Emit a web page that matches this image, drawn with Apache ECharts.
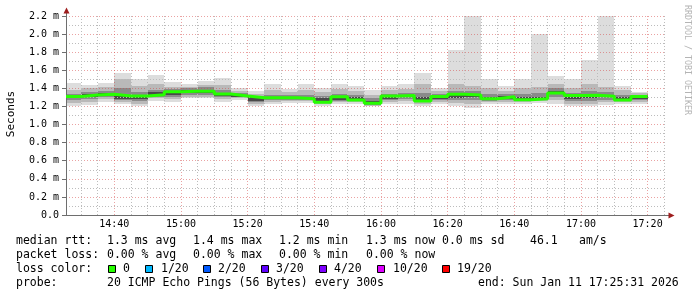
<!DOCTYPE html>
<html><head><meta charset="utf-8">
<script src="https://cdn.jsdelivr.net/npm/echarts@6/dist/echarts.min.js"></script>
<style>html,body{margin:0;padding:0;background:#fff}#c{width:697px;height:297px}</style>
</head><body><div id="c"></div>
<script>
// ---- data ----
const axisStart = '14:25:31';
const axisEnd = '17:25:31';
const stepEnds = ['14:30','14:35','14:40','14:45','14:50','14:55','15:00','15:05','15:10','15:15','15:20','15:25','15:30','15:35','15:40','15:45','15:50','15:55','16:00','16:05','16:10','16:15','16:20','16:25','16:30','16:35','16:40','16:45','16:50','16:55','17:00','17:05','17:10','17:15','17:20'];
// values in ms
const medianRtt = [1.31,1.327,1.334,1.316,1.316,1.33,1.363,1.367,1.367,1.338,1.316,1.297,1.297,1.295,1.286,1.246,1.308,1.271,1.235,1.316,1.32,1.26,1.31,1.334,1.327,1.286,1.308,1.273,1.284,1.35,1.322,1.325,1.314,1.271,1.31];
const pingMin  = [1.21,1.22,1.25,1.23,1.20,1.26,1.25,1.29,1.29,1.25,1.27,1.205,1.227,1.24,1.24,1.21,1.23,1.23,1.20,1.23,1.23,1.21,1.23,1.20,1.18,1.23,1.23,1.23,1.24,1.23,1.21,1.20,1.22,1.23,1.23];
const ping3    = [1.24,1.25,1.28,1.25,1.23,1.29,1.28,1.31,1.31,1.28,1.29,1.23,1.25,1.26,1.26,1.225,1.25,1.25,1.21,1.25,1.26,1.23,1.25,1.24,1.23,1.25,1.25,1.25,1.26,1.27,1.23,1.23,1.25,1.25,1.25];
const ping6    = [1.27,1.28,1.30,1.27,1.26,1.31,1.31,1.33,1.33,1.30,1.30,1.25,1.27,1.27,1.27,1.235,1.26,1.26,1.22,1.27,1.28,1.25,1.27,1.27,1.27,1.26,1.27,1.26,1.27,1.31,1.26,1.26,1.27,1.26,1.27];
const ping9    = [1.29,1.31,1.32,1.28,1.28,1.32,1.33,1.35,1.35,1.32,1.31,1.26,1.28,1.28,1.28,1.24,1.27,1.265,1.225,1.28,1.30,1.255,1.28,1.29,1.30,1.27,1.28,1.27,1.28,1.34,1.28,1.29,1.30,1.265,1.28];
const ping12   = [1.32,1.34,1.35,1.33,1.32,1.36,1.37,1.38,1.38,1.35,1.33,1.30,1.31,1.31,1.30,1.29,1.31,1.30,1.26,1.32,1.33,1.30,1.32,1.34,1.34,1.30,1.32,1.31,1.31,1.37,1.33,1.34,1.33,1.30,1.32];
const ping15   = [1.34,1.36,1.37,1.40,1.36,1.38,1.39,1.40,1.41,1.38,1.35,1.32,1.33,1.33,1.33,1.32,1.34,1.33,1.29,1.34,1.35,1.35,1.34,1.37,1.37,1.34,1.34,1.34,1.35,1.40,1.35,1.37,1.36,1.33,1.33];
const ping18   = [1.38,1.40,1.41,1.50,1.43,1.45,1.42,1.42,1.44,1.44,1.37,1.34,1.38,1.36,1.38,1.36,1.39,1.37,1.33,1.38,1.39,1.45,1.37,1.45,1.43,1.40,1.37,1.40,1.42,1.45,1.40,1.45,1.41,1.38,1.35];
const pingMax  = [1.456,1.44,1.456,1.567,1.504,1.548,1.467,1.45,1.485,1.515,1.40,1.374,1.448,1.393,1.448,1.40,1.452,1.43,1.382,1.43,1.445,1.573,1.40,1.824,2.2,1.50,1.43,1.50,2.0,1.54,1.50,1.71,2.2,1.43,1.363];

const statLabels = ['median rtt:', 'packet loss:', 'loss color:', 'probe:'];
const rttStats = ['1.3 ms avg', '1.4 ms max', '1.2 ms min', '1.3 ms now', '0.0 ms sd', '46.1', 'am/s'];
const lossStats = ['0.00 % avg', '0.00 % max', '0.00 % min', '0.00 % now'];
const lossNames = ['0', '1/20', '2/20', '3/20', '4/20', '10/20', '19/20'];
const lossColors = ['#26ff00', '#00b8ff', '#0059ff', '#5e00ff', '#7e00ff', '#dd00ff', '#ff0000'];
const probeText = '20 ICMP Echo Pings (56 Bytes) every 300s';
const endText = 'end: Sun Jan 11 17:25:31 2026';
const watermark = 'RRDTOOL / TOBI OETIKER';
const yTitle = 'Seconds';

// ---- build ----
function toMin(t) { const p = t.split(':').map(Number); return p[0] * 60 + p[1] + (p[2] || 0) / 60; }
const xMin = toMin(axisStart), xMax = toMin(axisEnd);
const smokeColors = ['#dddddd', '#b9b9b9', '#8a8a8a', '#4a4a4a'];
const smokeData = [], medLine = [];
stepEnds.forEach((t, i) => {
  const s = i === 0 ? xMin : toMin(stepEnds[i - 1]);
  const e = toMin(t);
  smokeData.push([s, e, pingMin[i], ping3[i], ping6[i], ping9[i], ping12[i], ping15[i], ping18[i], pingMax[i]]);
  medLine.push([s, medianRtt[i]], [e, medianRtt[i]]);
});
const pad = n => (n < 10 ? '0' : '') + n;
const MONO = '"DejaVu Sans Mono", monospace';
const axisCol = '#6e6e6e';
const redGrid = 'rgba(214,70,70,0.5)';
const greyGrid = '#bcbcbc';

const graphics = [];
const legendFont = '11.5px ' + MONO;
const rowY = [241.5, 255, 269, 283];
function txt(x, y, text, extra) {
  graphics.push(Object.assign({ type: 'text', x: x, y: y, style: { text: text, font: legendFont, fill: '#000', verticalAlign: 'middle' } }, extra || {}));
}
statLabels.forEach((l, i) => txt(16, rowY[i], l));
const rttX = [107, 193, 279, 366, 442, 530, 579];
rttStats.forEach((s, i) => txt(rttX[i], rowY[0], s));
lossStats.forEach((s, i) => txt(rttX[i], rowY[1], s));
const boxX = [109, 146, 204, 262, 320, 378, 443];
const nameX = [123, 161, 218, 276, 334, 393, 457];
lossNames.forEach((n, i) => {
  graphics.push({ type: 'rect', shape: { x: boxX[i] - 0.5, y: 265.5, width: 7, height: 7 }, style: { fill: lossColors[i], stroke: '#000', lineWidth: 1 } });
  txt(nameX[i], rowY[2], n);
});
txt(107, rowY[3], probeText);
txt(478, rowY[3], endText);
graphics.push({ type: 'text', x: 11, y: 114, rotation: Math.PI / 2, style: { text: yTitle, font: '11px ' + MONO, fill: '#000', align: 'center', verticalAlign: 'middle' } });
graphics.push({ type: 'text', x: 687, y: 60, rotation: -Math.PI / 2, style: { text: watermark, font: '8.3px ' + MONO, fill: '#b4b4b4', align: 'center', verticalAlign: 'middle' } });
// axis arrows
graphics.push({ type: 'line', shape: { x1: 66.5, y1: 16, x2: 66.5, y2: 11 }, style: { stroke: axisCol, lineWidth: 1 } });
graphics.push({ type: 'polygon', shape: { points: [[63.5, 13.5], [69.5, 13.5], [66.5, 7.5]] }, style: { fill: '#9e1d1d' } });
graphics.push({ type: 'line', shape: { x1: 666, y1: 215.5, x2: 669, y2: 215.5 }, style: { stroke: axisCol, lineWidth: 1 } });
graphics.push({ type: 'polygon', shape: { points: [[668.5, 212.5], [668.5, 218.5], [674.5, 215.5]] }, style: { fill: '#9e1d1d' } });

const chart = echarts.init(document.getElementById('c'), null, { renderer: 'canvas' });
chart.setOption({
  animation: false,
  backgroundColor: '#ffffff',
  grid: { left: 66, right: 31, top: 16, bottom: 82, containLabel: false },
  xAxis: {
    type: 'value', min: xMin, max: xMax, splitNumber: 9, z: 2,
    axisLine: { show: true, onZero: false, lineStyle: { color: axisCol } },
    axisTick: { show: false },
    axisLabel: { showMinLabel: false, showMaxLabel: false, margin: 4, fontFamily: MONO, fontSize: 10, color: '#000',
      formatter: v => pad(Math.floor(v / 60)) + ':' + pad(Math.round(v % 60)) },
    splitLine: { show: true, showMinLine: false, showMaxLine: false, lineStyle: { color: redGrid, type: [1, 2] } },
    minorTick: { show: false, splitNumber: 4 },
    minorSplitLine: { show: true, lineStyle: { color: greyGrid, type: [1, 2] } }
  },
  yAxis: {
    type: 'value', min: 0, max: 2.2, interval: 0.2, z: 2,
    axisLine: { show: true, lineStyle: { color: axisCol } },
    axisTick: { show: true, length: 4, lineStyle: { color: axisCol } },
    axisLabel: { margin: 7, fontFamily: MONO, fontSize: 10, color: '#000',
      formatter: v => (v === 0 ? '0.0' : v.toFixed(1) + ' m') },
    splitLine: { show: true, lineStyle: { color: redGrid, type: [1, 2] } },
    minorTick: { show: false, splitNumber: 2 },
    minorSplitLine: { show: true, lineStyle: { color: greyGrid, type: [1, 2] } }
  },
  series: [
    {
      type: 'custom', z: 1, data: smokeData,
      encode: { x: [0, 1], y: [2, 9] },
      renderItem: function (params, api) {
        const s = api.value(0), e = api.value(1);
        const children = [];
        for (let k = 0; k < 4; k++) {
          const lo = api.value(2 + k), hi = api.value(9 - k);
          const p0 = api.coord([s, hi]), p1 = api.coord([e, lo]);
          const x0 = Math.round(p0[0]), x1 = Math.round(p1[0]);
          const y0 = Math.round(p0[1]), y1 = Math.round(p1[1]);
          children.push({ type: 'rect', shape: { x: x0, y: y0, width: x1 - x0, height: y1 - y0 }, style: { fill: smokeColors[k] } });
        }
        return { type: 'group', children: children };
      }
    },
    {
      type: 'line', z: 3, data: medLine, symbol: 'none', silent: true,
      lineStyle: { color: lossColors[0], width: 3 }
    }
  ],
  graphic: graphics
});
</script></body></html>
